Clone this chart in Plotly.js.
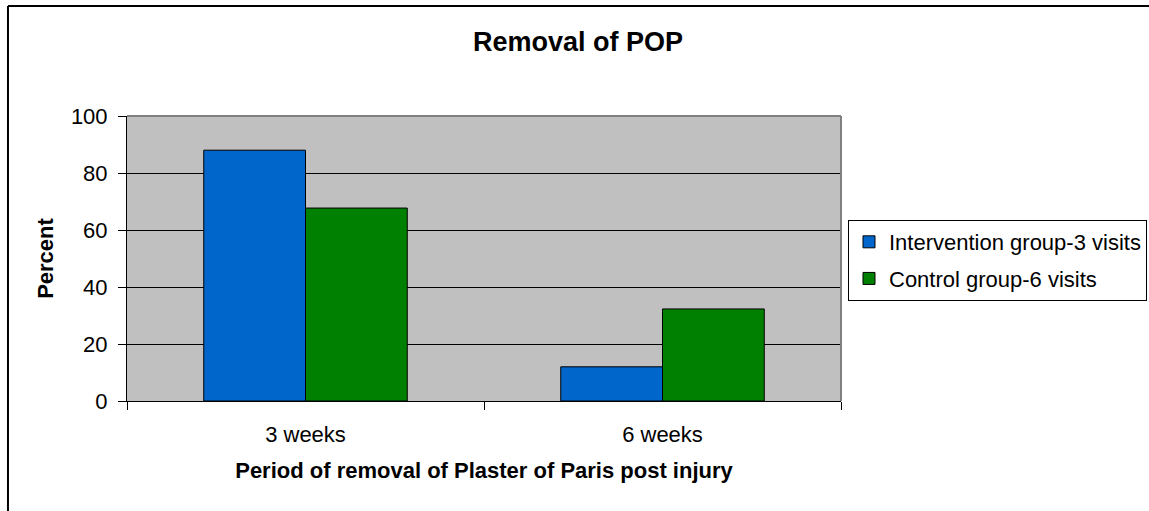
<!DOCTYPE html>
<html>
<head>
<meta charset="utf-8">
<script src="https://cdn.plot.ly/plotly-3.0.1.min.js"></script>
<style>
  html, body { margin: 0; padding: 0; background: #ffffff; overflow: hidden; }
  #chart { width: 1149px; height: 511px; }
</style>
</head>
<body>
<div id="chart"></div>
<script>
const categories = ['3 weeks', '6 weeks'];
const interventionValues = [88, 12];
const controlValues = [67.7, 32.3];
const seriesNames = ['Intervention group-3 visits', 'Control group-6 visits'];
const yTicks = [0, 20, 40, 60, 80, 100];

const FONT = '"Liberation Sans", Arial, sans-serif';

const traces = [
  {
    type: 'bar', name: seriesNames[0], x: categories, y: interventionValues,
    marker: { color: '#0066CC', line: { color: '#000000', width: 1 } },
    legendgroup: 'a', hoverinfo: 'x+y'
  },
  {
    type: 'bar', name: seriesNames[1], x: categories, y: controlValues,
    marker: { color: '#008000', line: { color: '#000000', width: 1 } },
    legendgroup: 'b', hoverinfo: 'x+y'
  }
];

const layout = {
  width: 1149, height: 511,
  margin: { l: 127, r: 308, t: 116, b: 110, pad: 0, autoexpand: false },
  paper_bgcolor: '#ffffff',
  plot_bgcolor: '#C0C0C0',
  font: { family: FONT, size: 22, color: '#000000' },
  barmode: 'group',
  bargap: 0.43,
  bargroupgap: 0,
  title: {
    text: 'Removal of POP',
    font: { family: FONT, size: 27, weight: 'bold', color: '#000000' },
    x: 0.503, xref: 'container', xanchor: 'center',
    y: 0.918, yref: 'container', yanchor: 'middle'
  },
  xaxis: {
    type: 'category',
    showgrid: false,
    showline: true, linecolor: '#000000', linewidth: 1,
    ticks: 'outside', ticklen: 8, tickcolor: '#000000', tickwidth: 1,
    tickson: 'boundaries',
    ticklabelstandoff: 14,
    tickfont: { family: FONT, size: 22 },
    title: {
      text: 'Period of removal of Plaster of Paris post injury',
      font: { family: FONT, size: 22, weight: 'bold' },
      standoff: 16
    },
    automargin: false,
    fixedrange: true
  },
  yaxis: {
    range: [0, 100],
    tickvals: yTicks,
    showgrid: true, gridcolor: '#000000', gridwidth: 1,
    zeroline: false,
    showline: true, linecolor: '#000000', linewidth: 1,
    ticks: 'outside', ticklen: 8, tickcolor: '#000000', tickwidth: 1,
    ticklabelstandoff: 6,
    tickfont: { family: FONT, size: 22 },
    title: {
      text: 'Percent',
      font: { family: FONT, size: 22, weight: 'bold' },
      standoff: 11
    },
    automargin: false,
    fixedrange: true
  },
  legend: {
    x: 1.0098, xanchor: 'left', xref: 'paper',
    y: 0.635, yanchor: 'top', yref: 'paper',
    bgcolor: '#ffffff', bordercolor: '#000000', borderwidth: 1,
    font: { family: FONT, size: 22 },
    traceorder: 'grouped', tracegroupgap: 5,
    itemwidth: 30
  },
  shapes: [
    { type: 'line', xref: 'paper', yref: 'paper', x0: 0, x1: 1, y0: 1, y1: 1,
      line: { color: '#808080', width: 2 }, layer: 'above' },
    { type: 'line', xref: 'paper', yref: 'paper', x0: 1, x1: 1, y0: 0, y1: 1,
      line: { color: '#808080', width: 2 }, layer: 'above' },
    { type: 'line', xref: 'paper', yref: 'paper', x0: -0.1667, x1: 1.6, y0: 1.386, y1: 1.386,
      line: { color: '#000000', width: 2 }, layer: 'above' },
    { type: 'line', xref: 'paper', yref: 'paper', x0: -0.1667, x1: -0.1667, y0: 1.386, y1: -0.6,
      line: { color: '#000000', width: 2 }, layer: 'above' }
  ],
  showlegend: true
};

Plotly.newPlot('chart', traces, layout, { displayModeBar: false, staticPlot: false, responsive: false });
</script>
</body>
</html>
